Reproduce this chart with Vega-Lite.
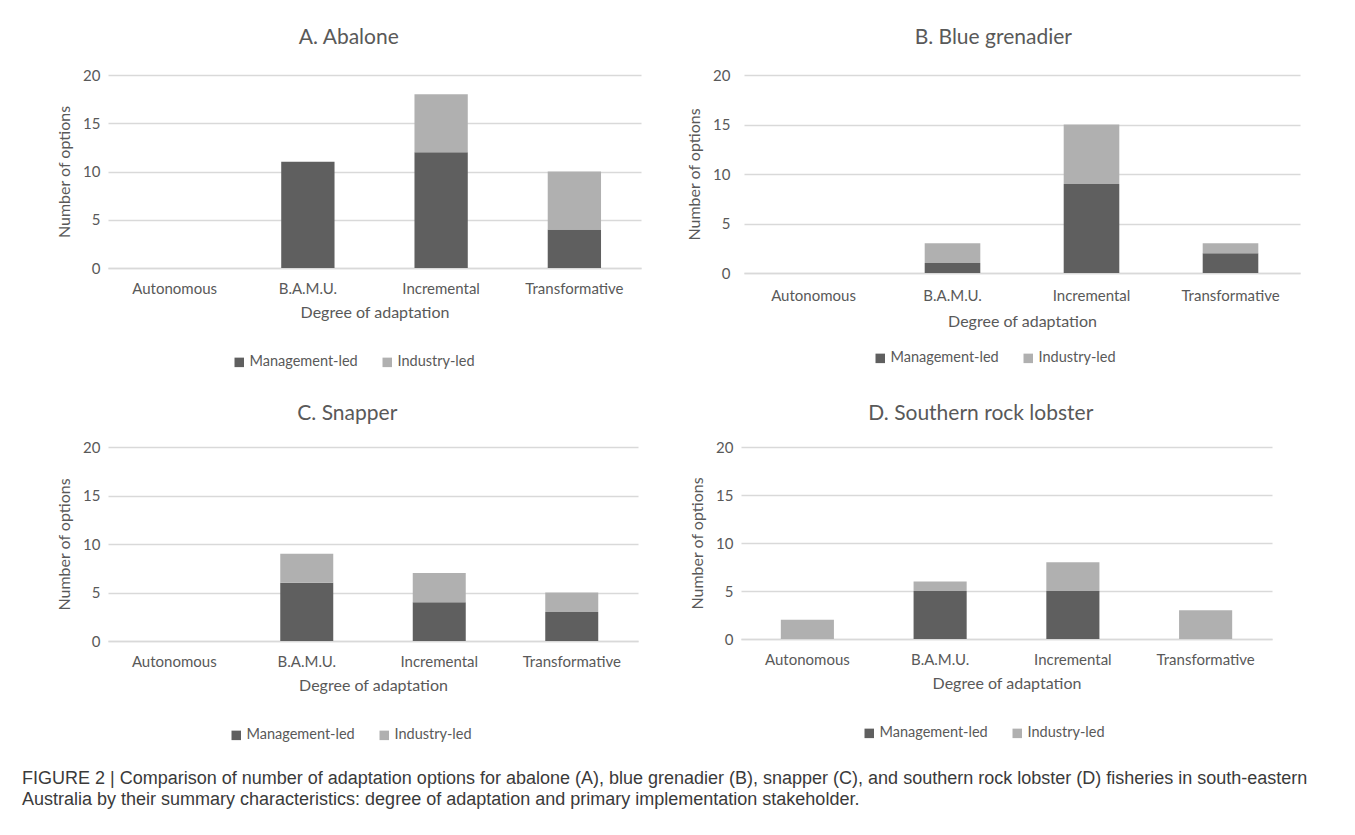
{
  "$schema": "https://vega.github.io/schema/vega-lite/v6.json",
  "background": "white",
  "padding": {"left": 22, "top": 27, "right": 10, "bottom": 5},
  "datasets": {
    "fish": [
      {"panel": "A", "degree": "Autonomous", "stakeholder": "Management-led", "count": 0},
      {"panel": "A", "degree": "Autonomous", "stakeholder": "Industry-led", "count": 0},
      {"panel": "A", "degree": "B.A.M.U.", "stakeholder": "Management-led", "count": 11},
      {"panel": "A", "degree": "B.A.M.U.", "stakeholder": "Industry-led", "count": 0},
      {"panel": "A", "degree": "Incremental", "stakeholder": "Management-led", "count": 12},
      {"panel": "A", "degree": "Incremental", "stakeholder": "Industry-led", "count": 6},
      {"panel": "A", "degree": "Transformative", "stakeholder": "Management-led", "count": 4},
      {"panel": "A", "degree": "Transformative", "stakeholder": "Industry-led", "count": 6},
      {"panel": "B", "degree": "Autonomous", "stakeholder": "Management-led", "count": 0},
      {"panel": "B", "degree": "Autonomous", "stakeholder": "Industry-led", "count": 0},
      {"panel": "B", "degree": "B.A.M.U.", "stakeholder": "Management-led", "count": 1},
      {"panel": "B", "degree": "B.A.M.U.", "stakeholder": "Industry-led", "count": 2},
      {"panel": "B", "degree": "Incremental", "stakeholder": "Management-led", "count": 9},
      {"panel": "B", "degree": "Incremental", "stakeholder": "Industry-led", "count": 6},
      {"panel": "B", "degree": "Transformative", "stakeholder": "Management-led", "count": 2},
      {"panel": "B", "degree": "Transformative", "stakeholder": "Industry-led", "count": 1},
      {"panel": "C", "degree": "Autonomous", "stakeholder": "Management-led", "count": 0},
      {"panel": "C", "degree": "Autonomous", "stakeholder": "Industry-led", "count": 0},
      {"panel": "C", "degree": "B.A.M.U.", "stakeholder": "Management-led", "count": 6},
      {"panel": "C", "degree": "B.A.M.U.", "stakeholder": "Industry-led", "count": 3},
      {"panel": "C", "degree": "Incremental", "stakeholder": "Management-led", "count": 4},
      {"panel": "C", "degree": "Incremental", "stakeholder": "Industry-led", "count": 3},
      {"panel": "C", "degree": "Transformative", "stakeholder": "Management-led", "count": 3},
      {"panel": "C", "degree": "Transformative", "stakeholder": "Industry-led", "count": 2},
      {"panel": "D", "degree": "Autonomous", "stakeholder": "Management-led", "count": 0},
      {"panel": "D", "degree": "Autonomous", "stakeholder": "Industry-led", "count": 2},
      {"panel": "D", "degree": "B.A.M.U.", "stakeholder": "Management-led", "count": 5},
      {"panel": "D", "degree": "B.A.M.U.", "stakeholder": "Industry-led", "count": 1},
      {"panel": "D", "degree": "Incremental", "stakeholder": "Management-led", "count": 5},
      {"panel": "D", "degree": "Incremental", "stakeholder": "Industry-led", "count": 3},
      {"panel": "D", "degree": "Transformative", "stakeholder": "Management-led", "count": 0},
      {"panel": "D", "degree": "Transformative", "stakeholder": "Industry-led", "count": 3}
    ]
  },
  "title": {
    "text": [
      "FIGURE 2 | Comparison of number of adaptation options for abalone (A), blue grenadier (B), snapper (C), and southern rock lobster (D) fisheries in south-eastern",
      "Australia by their summary characteristics: degree of adaptation and primary implementation stakeholder."
    ],
    "orient": "bottom",
    "anchor": "start",
    "frame": "group",
    "dx": -86,
    "offset": 28,
    "font": "Liberation Sans",
    "fontSize": 18,
    "fontWeight": "normal",
    "color": "#3a3a3a",
    "lineHeight": 21
  },
  "spacing": 34,
  "resolve": {"scale": {"color": "independent"}, "legend": {"color": "independent"}},
  "vconcat": [
    {
      "spacing": 45,
      "resolve": {"scale": {"color": "independent"}, "legend": {"color": "independent"}},
      "hconcat": [
        {
          "data": {"name": "fish"},
          "transform": [{"filter": "datum.panel === 'A'"}],
          "width": 533,
          "height": 193,
          "title": {"text": "A. Abalone"},
          "mark": {"type": "bar"},
          "encoding": {
            "x": {"field": "degree", "type": "nominal", "scale": {"domain": ["Autonomous", "B.A.M.U.", "Incremental", "Transformative"], "paddingInner": 0.6, "paddingOuter": 0.3}, "axis": {"title": "Degree of adaptation"}},
            "y": {"field": "count", "type": "quantitative", "stack": "zero", "scale": {"domain": [0, 20]}, "axis": {"title": "Number of options", "values": [0, 5, 10, 15, 20]}},
            "color": {"field": "stakeholder", "type": "nominal", "scale": {"domain": ["Management-led", "Industry-led"], "range": ["#5f5f5f", "#b0b0b0"]}, "legend": {"title": null, "orient": "none", "direction": "horizontal", "legendX": 124, "legendY": 280}},
            "order": {"field": "stakeholder", "sort": "descending"}
          }
        },
        {
          "data": {"name": "fish"},
          "transform": [{"filter": "datum.panel === 'B'"}],
          "width": 556,
          "height": 198,
          "title": {"text": "B. Blue grenadier"},
          "mark": {"type": "bar"},
          "encoding": {
            "x": {"field": "degree", "type": "nominal", "scale": {"domain": ["Autonomous", "B.A.M.U.", "Incremental", "Transformative"], "paddingInner": 0.6, "paddingOuter": 0.3}, "axis": {"title": "Degree of adaptation", "labelPadding": 15, "titlePadding": 10}},
            "y": {"field": "count", "type": "quantitative", "stack": "zero", "scale": {"domain": [0, 20]}, "axis": {"title": "Number of options", "values": [0, 5, 10, 15, 20], "labelPadding": 14}},
            "color": {"field": "stakeholder", "type": "nominal", "scale": {"domain": ["Management-led", "Industry-led"], "range": ["#5f5f5f", "#b0b0b0"]}, "legend": {"title": null, "orient": "none", "direction": "horizontal", "legendX": 129, "legendY": 276}},
            "order": {"field": "stakeholder", "sort": "descending"}
          }
        }
      ]
    },
    {
      "spacing": 51,
      "resolve": {"scale": {"color": "independent"}, "legend": {"color": "independent"}},
      "hconcat": [
        {
          "data": {"name": "fish"},
          "transform": [{"filter": "datum.panel === 'C'"}],
          "width": 530,
          "height": 194,
          "title": {"text": "C. Snapper", "offset": 16},
          "mark": {"type": "bar"},
          "encoding": {
            "x": {"field": "degree", "type": "nominal", "scale": {"domain": ["Autonomous", "B.A.M.U.", "Incremental", "Transformative"], "paddingInner": 0.6, "paddingOuter": 0.3}, "axis": {"title": "Degree of adaptation"}},
            "y": {"field": "count", "type": "quantitative", "stack": "zero", "scale": {"domain": [0, 20]}, "axis": {"title": "Number of options", "values": [0, 5, 10, 15, 20]}},
            "color": {"field": "stakeholder", "type": "nominal", "scale": {"domain": ["Management-led", "Industry-led"], "range": ["#5f5f5f", "#b0b0b0"]}, "legend": {"title": null, "orient": "none", "direction": "horizontal", "legendX": 121, "legendY": 281}},
            "order": {"field": "stakeholder", "sort": "descending"}
          }
        },
        {
          "data": {"name": "fish"},
          "transform": [{"filter": "datum.panel === 'D'"}],
          "width": 531,
          "height": 192,
          "title": {"text": "D. Southern rock lobster", "offset": 16},
          "mark": {"type": "bar"},
          "encoding": {
            "x": {"field": "degree", "type": "nominal", "scale": {"domain": ["Autonomous", "B.A.M.U.", "Incremental", "Transformative"], "paddingInner": 0.6, "paddingOuter": 0.3}, "axis": {"title": "Degree of adaptation"}},
            "y": {"field": "count", "type": "quantitative", "stack": "zero", "scale": {"domain": [0, 20]}, "axis": {"title": "Number of options", "values": [0, 5, 10, 15, 20]}},
            "color": {"field": "stakeholder", "type": "nominal", "scale": {"domain": ["Management-led", "Industry-led"], "range": ["#5f5f5f", "#b0b0b0"]}, "legend": {"title": null, "orient": "none", "direction": "horizontal", "legendX": 121, "legendY": 279}},
            "order": {"field": "stakeholder", "sort": "descending"}
          }
        }
      ]
    }
  ],
  "config": {
    "font": "Lato",
    "view": {"stroke": null},
    "axis": {"labelColor": "#595959", "titleColor": "#595959", "labelFont": "Lato", "titleFont": "Lato", "labelFontSize": 15, "titleFontSize": 16, "titleFontWeight": "normal", "ticks": false, "gridColor": "#d9d9d9", "gridWidth": 1.5, "domain": false},
    "axisX": {"domain": true, "domainColor": "#d9d9d9", "domainWidth": 1.5, "grid": false, "labelPadding": 13, "titlePadding": 8, "labelAngle": 0},
    "axisY": {"labelPadding": 8, "titlePadding": 10, "grid": true},
    "legend": {"labelColor": "#595959", "labelFont": "Lato", "labelFontSize": 14.5, "symbolType": "square", "symbolSize": 90, "symbolStrokeWidth": 0, "columnPadding": 22, "labelOffset": 3},
    "title": {"color": "#595959", "fontSize": 21, "fontWeight": "normal", "font": "Lato", "frame": "bounds", "anchor": "middle", "offset": 20}
  }
}
